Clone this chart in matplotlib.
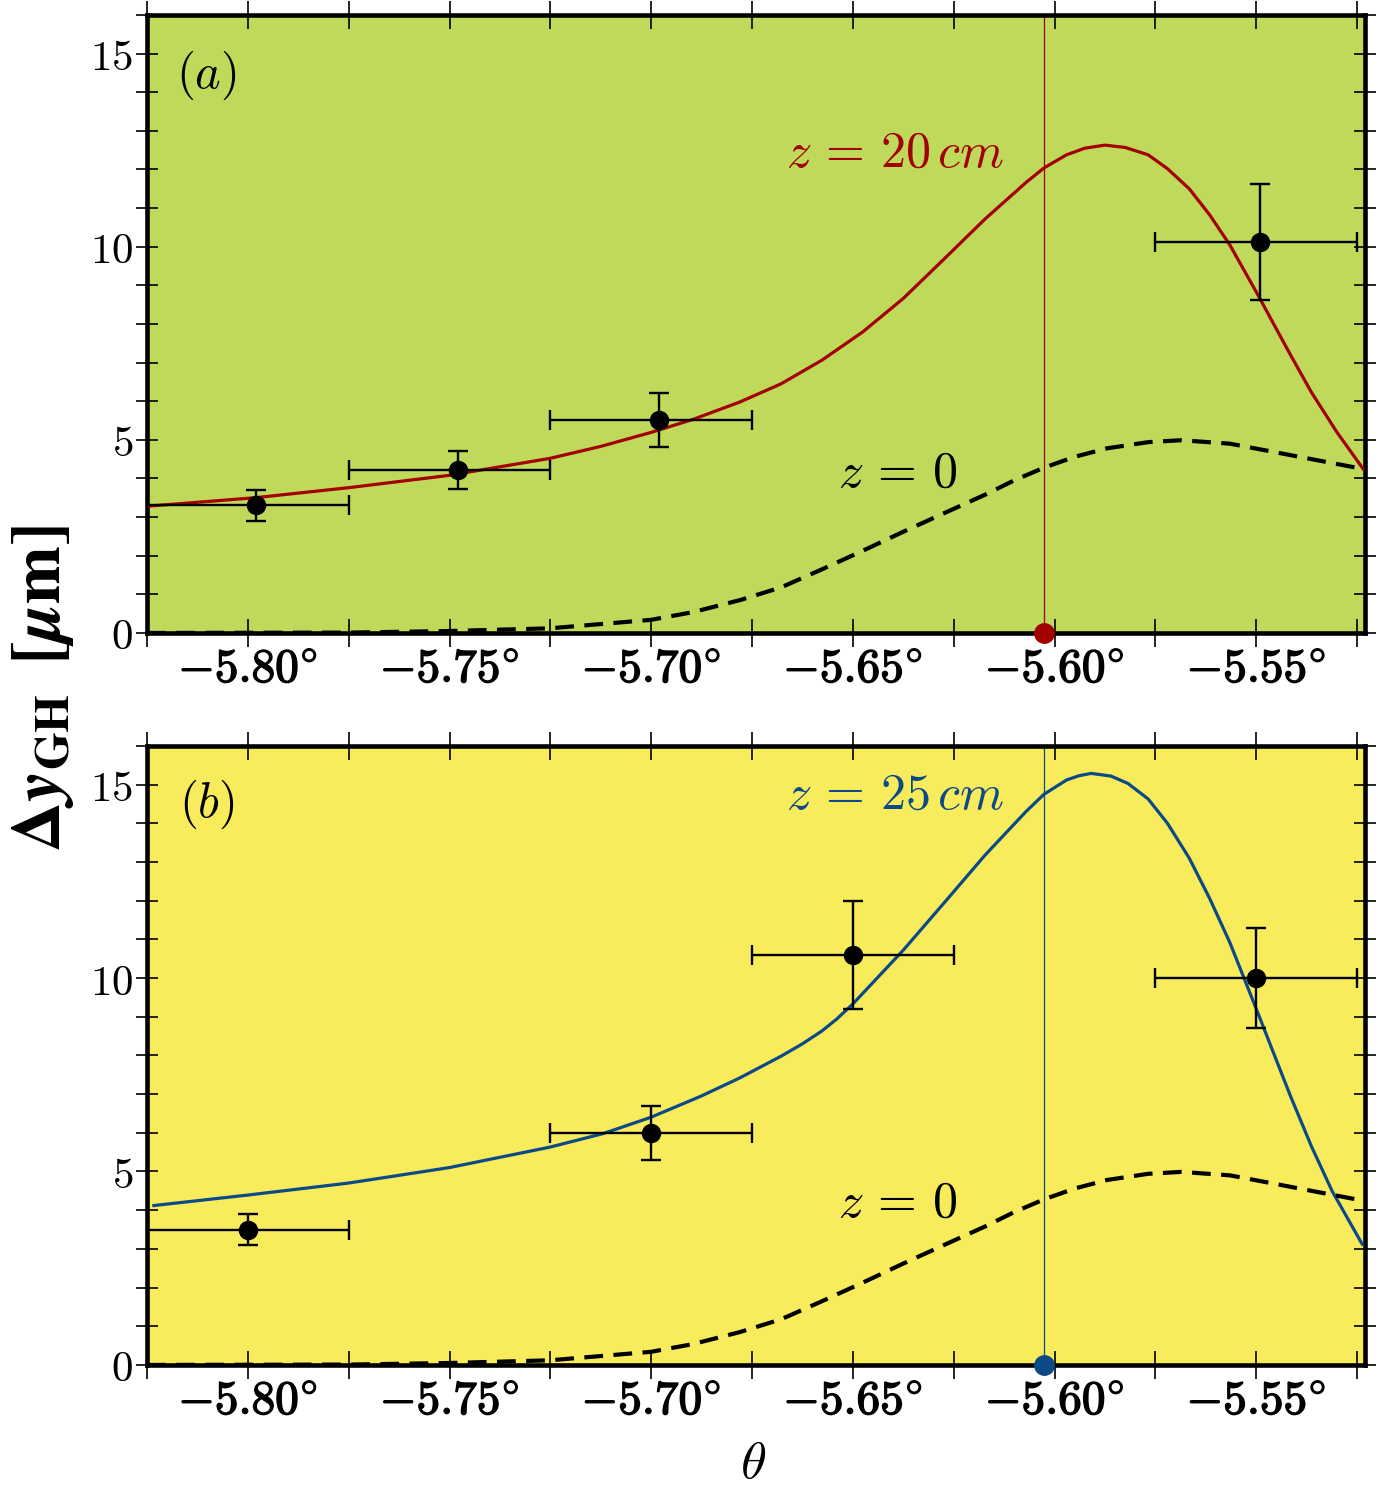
import matplotlib.pyplot as plt
import matplotlib.patheffects as pe
from matplotlib.ticker import MultipleLocator, FixedLocator

plt.rcParams['mathtext.fontset'] = 'cm'
plt.rcParams['axes.unicode_minus'] = False

# theory curve z = 0 (same in both panels)
theta_z0 = [-5.825, -5.7747, -5.7501, -5.7251, -5.7000, -5.6896, -5.6780, -5.6678,
            -5.6576, -5.6477, -5.6375, -5.6274, -5.6172, -5.6100, -5.6026, -5.5950,
            -5.5870, -5.5768, -5.5686, -5.5565, -5.5463, -5.5413, -5.5252, -5.5235]
dy_z0 = [0.0, 0.01, 0.05, 0.12, 0.34, 0.54, 0.85, 1.18,
         1.65, 2.12, 2.62, 3.10, 3.58, 3.95, 4.28, 4.56,
         4.78, 4.94, 4.99, 4.90, 4.70, 4.60, 4.28, 4.24]

# theory curve z = 20 cm (panel a)
theta_a = [-5.825, -5.7983, -5.7751, -5.7501, -5.7251, -5.7125, -5.7001, -5.6896,
           -5.6780, -5.6678, -5.6577, -5.6476, -5.6375, -5.6274, -5.6172, -5.6071,
           -5.6026, -5.5970, -5.5925, -5.5875, -5.5825, -5.5768, -5.5720, -5.5666,
           -5.5615, -5.5565, -5.5494, -5.5464, -5.5415, -5.5363, -5.5300, -5.5235]
dy_a = [3.28, 3.50, 3.76, 4.08, 4.52, 4.83, 5.19, 5.53,
        5.98, 6.45, 7.06, 7.79, 8.66, 9.68, 10.72, 11.66,
        12.04, 12.38, 12.55, 12.63, 12.57, 12.38, 12.02, 11.50,
        10.82, 10.04, 8.72, 8.14, 7.20, 6.23, 5.20, 4.25]

# theory curve z = 25 cm (panel b)
theta_b = [-5.8233, -5.8001, -5.7751, -5.7501, -5.7251, -5.7119, -5.7001, -5.6876,
           -5.6780, -5.6678, -5.6625, -5.6577, -5.6540, -5.6501, -5.6375, -5.6274,
           -5.6172, -5.6071, -5.6026, -5.5970, -5.5939, -5.5909, -5.5860, -5.5818,
           -5.5768, -5.5720, -5.5666, -5.5615, -5.5565, -5.5494, -5.5464, -5.5415,
           -5.5363, -5.5312, -5.5237]
dy_b = [4.12, 4.39, 4.70, 5.10, 5.63, 5.98, 6.40, 6.95,
        7.42, 7.98, 8.30, 8.63, 8.94, 9.32, 10.72, 11.94,
        13.18, 14.30, 14.75, 15.12, 15.23, 15.29, 15.22, 15.03,
        14.63, 14.00, 13.10, 12.05, 10.91, 9.05, 8.25, 6.95,
        5.65, 4.50, 3.12]

# measurements panel a
meas_a_x = [-5.798, -5.748, -5.698, -5.549]
meas_a_y = [3.30, 4.22, 5.51, 10.13]
meas_a_yerr = [0.40, 0.50, 0.70, 1.50]
meas_a_xlo = [0.027, 0.027, 0.027, 0.026]
meas_a_xhi = [0.023, 0.023, 0.023, 0.024]

# measurements panel b
meas_b_x = [-5.80, -5.70, -5.65, -5.55]
meas_b_y = [3.50, 6.00, 10.60, 10.00]
meas_b_yerr = [0.40, 0.70, 1.40, 1.30]
meas_b_xerr = [0.025, 0.025, 0.025, 0.025]

theta_mark = -5.6026

x_ticks = [-5.80, -5.75, -5.70, -5.65, -5.60, -5.55]
y_ticks = [0, 5, 10, 15]

red = '#a30000'
blue = '#0b4a87'

fig = plt.figure(figsize=(13.87, 14.96), dpi=100)
ax1 = fig.add_axes([0.106, 0.5769, 0.8782, 0.4131])
ax2 = fig.add_axes([0.106, 0.0876, 0.8782, 0.4138])


def style(ax, bg):
    ax.set_facecolor(bg)
    ax.set_xlim(-5.825, -5.523)
    ax.set_ylim(0, 16)
    ax.xaxis.set_major_locator(FixedLocator(x_ticks))
    ax.xaxis.set_minor_locator(MultipleLocator(0.025))
    ax.yaxis.set_major_locator(FixedLocator(y_ticks))
    ax.yaxis.set_minor_locator(MultipleLocator(1))
    ax.set_xticklabels([r'$\mathbf{%.2f}^{\circ}$' % t for t in x_ticks])
    ax.set_yticklabels([r'$%d$' % v for v in y_ticks])
    ax.tick_params(axis='x', which='both', direction='inout', top=True,
                   length=20, width=1.2, labelsize=34, pad=0)
    ax.tick_params(axis='y', which='both', direction='inout', right=True,
                   length=16, width=1.2, labelsize=31, pad=2)
    for lbl in ax.get_xticklabels():
        lbl.set_path_effects([pe.withStroke(linewidth=1.1, foreground='k')])
    for s in ax.spines.values():
        s.set_linewidth(3.3)


style(ax1, '#bfd95a')
style(ax2, '#f8eb5c')

# panel a
ax1.plot(theta_a, dy_a, color=red, lw=2.3, zorder=3)
ax1.plot(theta_z0, dy_z0, color='k', lw=3, dashes=(4.5, 2.5), zorder=3)
ax1.errorbar(meas_a_x, meas_a_y, xerr=[meas_a_xlo, meas_a_xhi], yerr=meas_a_yerr,
             fmt='o', color='k', ms=13, elinewidth=1.7, capsize=7, capthick=1.7, zorder=5)
ax1.axvline(theta_mark, color=red, lw=0.9, zorder=2)
ax1.plot([theta_mark], [0], 'o', color=red, ms=14, clip_on=False, zorder=6)
ax1.text(0.049, 0.903, r'$(a)$', transform=ax1.transAxes, fontsize=35,
         ha='center', va='center')
ax1.text(-5.6395, 12.43, r'$z\,=\,20\,cm$', color=red, fontsize=36, ha='center', va='center')
ax1.text(-5.639, 4.16, r'$z\,=\,0$', color='k', fontsize=36, ha='center', va='center')

# panel b
ax2.plot(theta_b, dy_b, color=blue, lw=2.3, zorder=3)
ax2.plot(theta_z0, dy_z0, color='k', lw=3, dashes=(4.5, 2.5), zorder=3)
ax2.errorbar(meas_b_x, meas_b_y, xerr=meas_b_xerr, yerr=meas_b_yerr,
             fmt='o', color='k', ms=13, elinewidth=1.7, capsize=7, capthick=1.7, zorder=5)
ax2.axvline(theta_mark, color=blue, lw=0.9, zorder=2)
ax2.plot([theta_mark], [0], 'o', color=blue, ms=14, clip_on=False, zorder=6)
ax2.text(0.049, 0.905, r'$(b)$', transform=ax2.transAxes, fontsize=35,
         ha='center', va='center')
ax2.text(-5.6395, 14.73, r'$z\,=\,25\,cm$', color=blue, fontsize=36, ha='center', va='center')
ax2.text(-5.639, 4.19, r'$z\,=\,0$', color='k', fontsize=36, ha='center', va='center')

fig.text(0.031, 0.5394,
         r'$\mathbf{\Delta}\mathbfit{y}_{\mathbf{GH}}\;\;\mathbf{[}\mathbfit{\mu}\mathbf{m]}$',
         rotation=90, fontsize=50, ha='center', va='center', math_fontfamily='stix')
fig.text(0.543, 0.005, r'$\theta$', fontsize=38, ha='center', va='bottom')

fig.savefig('out.png', dpi=100)
